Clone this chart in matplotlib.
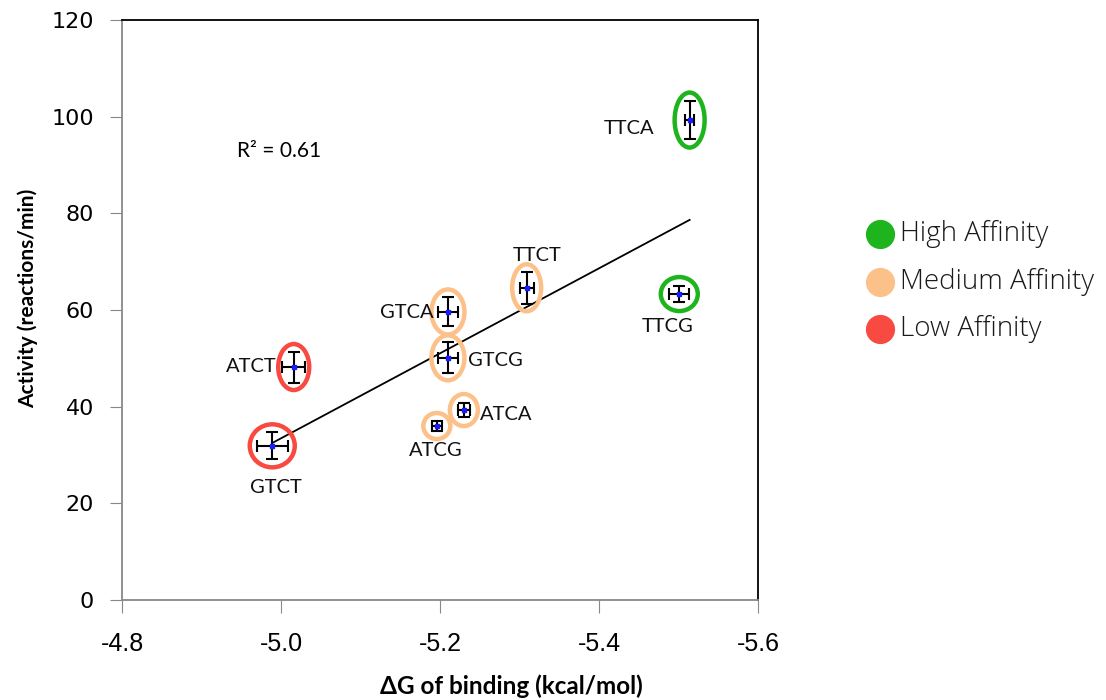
import numpy as np
import matplotlib
matplotlib.use("Agg")
import matplotlib.pyplot as plt
from matplotlib.patches import Ellipse
from matplotlib.lines import Line2D
import matplotlib.transforms as mtransforms

# ---- data ----
labels = ["GTCT", "ATCT", "GTCG", "GTCA", "TTCT", "ATCG", "ATCA", "TTCA", "TTCG"]
dg = [-4.989, -5.016, -5.210, -5.210, -5.309, -5.196, -5.230, -5.514, -5.501]
activity = [31.9, 48.2, 50.1, 59.6, 64.6, 36.0, 39.3, 99.3, 63.3]
dg_err = [0.0195, 0.0145, 0.013, 0.013, 0.009, 0.006, 0.0075, 0.006, 0.0125]
act_err = [2.8, 3.2, 3.2, 3.0, 3.3, 1.0, 1.4, 3.9, 1.7]
affinity = ["Low", "Low", "Medium", "Medium", "Medium", "Medium", "Medium", "High", "High"]
legend_names = ["High Affinity", "Medium Affinity", "Low Affinity"]
x_ticks = [-4.8, -5.0, -5.2, -5.4, -5.6]
y_ticks = [0, 20, 40, 60, 80, 100, 120]

# ---- styles ----
colors = {"High": "#1db41d", "Medium": "#fcc089", "Low": "#f94a41"}
# ellipse sizes in pixels (w, h)
ell_size = [(45, 43), (31, 46), (33, 45), (33, 45), (29, 47), (27, 26), (28, 32), (30, 55), (37, 34)]
# label offsets in pixels (dx, dy) and alignment
lab_off = [(4, -42, "center"), (-17, 1, "right"), (20, -3, "left"), (-14, -1, "right"),
           (10, 32, "center"), (-1, -25, "center"), (16, -4, "left"), (-35, -8, "right"),
           (-12, -32, "center")]

W, H, DPI = 1106, 700, 100
fig = plt.figure(figsize=(W / DPI, H / DPI), dpi=DPI)
ax = fig.add_axes([122 / W, 100 / H, (758 - 122) / W, 580 / H])
ax.set_xlim(-4.8, -5.6)
ax.set_ylim(0, 120)

# trend line
coef = np.polyfit(dg, activity, 1)
xs = np.array([min(dg), max(dg)])
ax.plot(xs, np.polyval(coef, xs), color="black", lw=1.3, zorder=2)

# error bars
ax.errorbar(dg, activity, xerr=dg_err, yerr=act_err, fmt="s", ms=3.5,
            mfc="#1a1aff", mec="#1a1aff", ecolor="black", elinewidth=1.5,
            capsize=4.5, capthick=1.5, zorder=3)

# ellipses
for x, y, (w, h), a in zip(dg, activity, ell_size, affinity):
    tr = fig.dpi_scale_trans + mtransforms.ScaledTranslation(x, y, ax.transData)
    e = Ellipse((0, 0), w / DPI, h / DPI, fill=False, edgecolor=colors[a], lw=3.2,
                transform=tr, zorder=4)
    ax.add_artist(e)

# labels
for x, y, lab, (dx, dy, ha) in zip(dg, activity, labels, lab_off):
    ax.annotate(lab, (x, y), xytext=(dx, dy), textcoords="offset pixels",
                ha=ha, va="center", fontsize=14.5, family="Lato", color="#111111", zorder=5)

fig.text(237 / W, 1 - 151 / H, "R² = 0.61", fontsize=15, family="Lato", va="center", ha="left")

# axes styling
ax.set_xticks(x_ticks)
ax.set_xticklabels([f"{v:.1f}" for v in x_ticks], family="Liberation Sans", fontsize=18)
ax.set_yticks(y_ticks)
ax.set_yticklabels([str(v) for v in y_ticks], family="DejaVu Sans", fontsize=16)
ax.tick_params(axis="x", direction="out", length=9, color="#888888", pad=14)
ax.tick_params(axis="y", direction="out", length=9, color="#888888", pad=11)
for s in ["left", "bottom"]:
    ax.spines[s].set_color("#888888")
    ax.spines[s].set_linewidth(1.3)
for s in ["top", "right"]:
    ax.spines[s].set_color("black")
    ax.spines[s].set_linewidth(1.3)

fig.text(511 / W, 1 - 686 / H, "ΔG of binding (kcal/mol)", ha="center", va="center",
         fontsize=17.5, fontweight="bold", family="Lato")
fig.text(28 / W, 1 - 298 / H, "Activity (reactions/min)", ha="center", va="center",
         rotation=90, fontsize=15, fontweight="bold", family="Lato")

# legend
for i, (name, key) in enumerate(zip(legend_names, ["High", "Medium", "Low"])):
    yc = 1 - (234 + 47.5 * i) / H
    fig.add_artist(Line2D([880 / W], [yc], marker="o", ms=20, color=colors[key],
                          mec=colors[key], transform=fig.transFigure, ls="none"))
    fig.text(900 / W, yc, name, ha="left", va="center", fontsize=20,
             family="Open Sans", fontweight="light", color="#1a1a1a")

fig.savefig("out.png", dpi=DPI)
